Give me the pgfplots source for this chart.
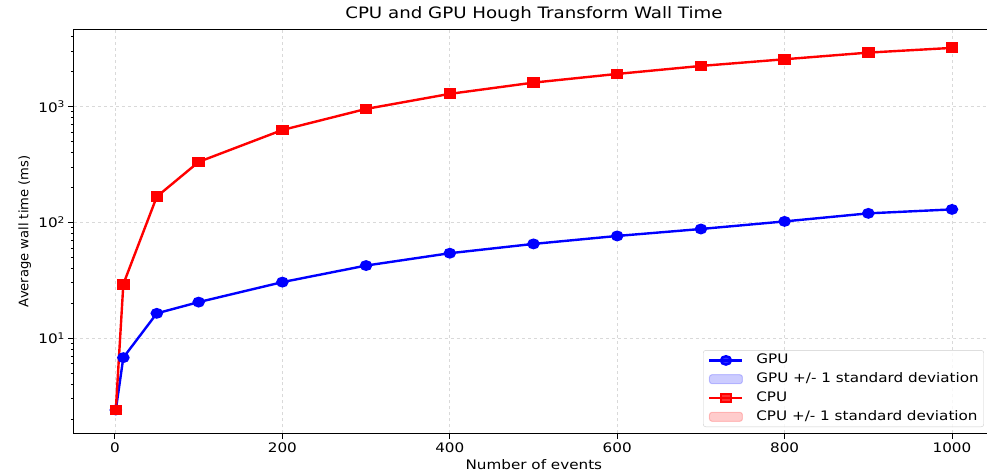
\documentclass[border=0pt]{standalone}
\usepackage{fontspec}
\setmainfont{DejaVu Sans}[FakeStretch=1.16]
\newfontfamily\ylabfont{DejaVu Sans}
\usepackage{pgfplots}
\usepackage{pgfplotstable}
\pgfplotsset{compat=1.18}
\newcommand{\fs}{\fontsize{13.1bp}{15.7bp}\selectfont}
\newcommand{\yfs}{\ylabfont\fontsize{13.1bp}{15.7bp}\selectfont}
\newcommand{\tfs}{\fontsize{15.7bp}{18.8bp}\selectfont}

\pgfplotstableread{
x y
1 2.40
10 6.8
50 16.4
100 20.5
200 30.5
300 42.4
400 54.2
500 65.2
600 76.4
700 87.7
800 102
900 119.7
1000 129.5
}\gpu
\pgfplotstableread{
x y
1 2.40
10 29.3
50 167
100 333
200 628
300 955
400 1288
500 1611
600 1915
700 2244
800 2563
900 2925
1000 3213
}\cpu

\begin{document}
\begin{tikzpicture}
\begin{semilogyaxis}[
  scale only axis, width=919.8bp, height=404bp,
  xmin=-48.95, xmax=1049.95, ymin=1.51, ymax=4650,
  axis line style={line width=1bp, black},
  xtick={0,200,400,600,800,1000},
  ytick={10,100,1000},
  yticklabels={10\textsuperscript{1},10\textsuperscript{2},10\textsuperscript{3}},
  minor ytick={2,3,4,5,6,7,8,9,20,30,40,50,60,70,80,90,200,300,400,500,600,700,800,900,2000,3000,4000},
  xtick pos=left, ytick pos=left,
  tick align=outside,
  major tick length=5.5bp, minor tick length=3.2bp,
  every tick/.style={black, line width=1bp},
  /pgf/number format/assume math mode=true,
  /pgf/number format/1000 sep={},
  tick label style={font=\fs},
  grid=major,
  major grid style={dashed, black!15, line width=0.8bp},
  title={CPU and GPU Hough Transform Wall Time},
  title style={font=\tfs, at={(axis description cs:0.5,1.0111)}, anchor=base},
  xlabel={Number of events},
  xlabel style={font=\fs, at={(axis description cs:0.5,-0.0908)}, anchor=base},
  ylabel={Average wall time (ms)},
  ylabel style={font=\yfs, at={(axis description cs:-0.0495,0.5)}, anchor=base},
  legend style={at={(axis description cs:0.9893,0.0156)}, anchor=south east,
    draw=black!20, rounded corners=2.5bp, fill=white, fill opacity=0.8, text opacity=1,
    font=\fs, inner xsep=5bp, inner ysep=3.5bp,
    nodes={inner sep=0bp, text height=10bp, text depth=3bp},
    row sep=5.8bp},
  legend cell align=left,
  /tikz/every odd column/.append style={column sep=12.7bp},
  legend image code/.code={\draw[mark repeat=2,mark phase=2] plot coordinates {(0bp,0bp) (16.5bp,0bp) (33bp,0bp)};},
]
\coordinate (bl) at (rel axis cs:0,0);
\addplot[blue, line width=2.4bp, mark=*, mark size=4.2bp, mark options={xscale=1.2, solid}] table[x=x,y=y] {\gpu};
\addlegendentry{GPU}
\addlegendimage{legend image code/.code={\draw[fill=blue, fill opacity=0.2, draw=blue, draw opacity=0.2, line width=1bp] (0bp,-4.5bp) rectangle (33bp,4.5bp);}}
\addlegendentry{GPU +/- 1 standard deviation}
\addplot[red, line width=2.4bp, mark=square*, mark size=4.2bp, mark options={xscale=1.2, solid}] table[x=x,y=y] {\cpu};
\addlegendentry{CPU}
\addlegendimage{legend image code/.code={\draw[fill=red, fill opacity=0.2, draw=red, draw opacity=0.2, line width=1bp] (0bp,-4.5bp) rectangle (33bp,4.5bp);}}
\addlegendentry{CPU +/- 1 standard deviation}
\end{semilogyaxis}
\pgfresetboundingbox
\useasboundingbox ([shift={(-74bp,-38.7bp)}]bl) rectangle ([shift={(913bp,433.3bp)}]bl);
\end{tikzpicture}
\end{document}
